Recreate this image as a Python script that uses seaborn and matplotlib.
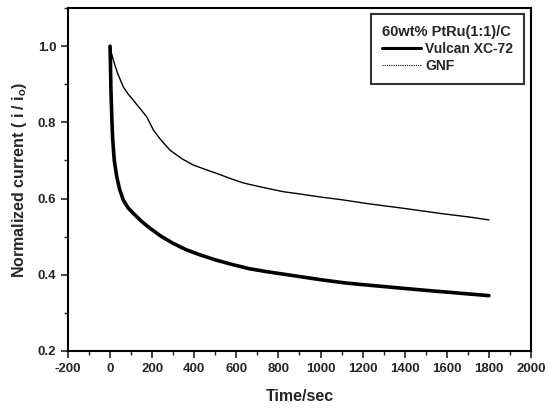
import numpy as np
import pandas as pd
import matplotlib
matplotlib.use("Agg")
import matplotlib.pyplot as plt
import seaborn as sns
from matplotlib.lines import Line2D
from matplotlib.ticker import MultipleLocator

# Data
vulcan_t = [0, 2, 4, 8, 12, 20, 32, 45, 63, 85, 111, 150, 190, 245, 301, 360, 428, 500,
            586, 660, 744, 830, 903, 1000, 1108, 1200, 1378, 1500, 1650, 1800]
vulcan_v = [1.0, 0.95, 0.89, 0.82, 0.76, 0.70, 0.657, 0.625, 0.596, 0.576, 0.561, 0.540,
            0.522, 0.500, 0.482, 0.466, 0.452, 0.439, 0.426, 0.416, 0.408, 0.401, 0.395,
            0.387, 0.379, 0.374, 0.365, 0.359, 0.352, 0.345]
gnf_t = [0, 5, 16, 35, 63, 85, 111, 140, 174, 206, 240, 285, 340, 396, 450, 507, 570,
         633, 720, 823, 903, 1000, 1100, 1219, 1400, 1568, 1700, 1800]
gnf_v = [1.0, 0.985, 0.963, 0.93, 0.893, 0.875, 0.858, 0.838, 0.815, 0.78, 0.755, 0.727,
         0.705, 0.688, 0.677, 0.666, 0.653, 0.641, 0.630, 0.618, 0.612, 0.604, 0.597,
         0.587, 0.574, 0.561, 0.552, 0.544]
series_names = ["Vulcan XC-72", "GNF"]
legend_title = "60wt% PtRu(1:1)/C"

df = pd.concat([
    pd.DataFrame({"t": vulcan_t, "v": vulcan_v, "s": series_names[0]}),
    pd.DataFrame({"t": gnf_t, "v": gnf_v, "s": series_names[1]}),
])

sns.set_style("ticks")
plt.rcParams['font.family'] = ['Liberation Sans', 'DejaVu Sans']
plt.rcParams['font.weight'] = 'bold'
plt.rcParams['axes.unicode_minus'] = False

fig = plt.figure(figsize=(5.48, 4.08), dpi=100)
ax = fig.add_axes([0.124, 0.140, 0.845, 0.840])

sns.lineplot(data=df, x="t", y="v", hue="s", size="s",
             sizes={series_names[0]: 2.6, series_names[1]: 1.0},
             palette={series_names[0]: "black", series_names[1]: "black"},
             legend=False, ax=ax, estimator=None, sort=False)

ax.set_xlim(-200, 2000)
ax.set_ylim(0.2, 1.1)
ax.xaxis.set_major_locator(MultipleLocator(200))
ax.xaxis.set_minor_locator(MultipleLocator(100))
ax.yaxis.set_major_locator(MultipleLocator(0.2))
ax.yaxis.set_minor_locator(MultipleLocator(0.1))
ax.tick_params(axis='both', which='major', direction='out', length=5, width=1.2, labelsize=9.5)
ax.tick_params(axis='both', which='minor', direction='out', length=3, width=1.0)
for lbl in ax.get_xticklabels() + ax.get_yticklabels():
    lbl.set_fontweight('bold')
for sp in ax.spines.values():
    sp.set_linewidth(1.5)
    sp.set_color('black')

ax.set_xlabel("Time/sec", fontsize=11.5, fontweight='bold', labelpad=10)
ax.set_ylabel(r"Normalized current ( i / i$_\mathregular{o}$)", fontsize=11.5, fontweight='bold', labelpad=6)

handles = [Line2D([], [], color='black', lw=2.2),
           Line2D([], [], color='black', lw=0.8, ls=(0, (1, 1)))]
leg = ax.legend(handles, series_names, title=legend_title, loc='upper right',
                bbox_to_anchor=(0.985, 0.983), borderaxespad=0, frameon=True, fancybox=False,
                edgecolor='black', prop={'weight': 'bold', 'size': 10},
                title_fontproperties={'weight': 'bold', 'size': 10.5},
                handlelength=2.8, handletextpad=0.3, borderpad=0.8, labelspacing=0.2)
leg.get_frame().set_linewidth(1.5)
leg._legend_box.align = "left"

fig.savefig("out.png", dpi=100)
